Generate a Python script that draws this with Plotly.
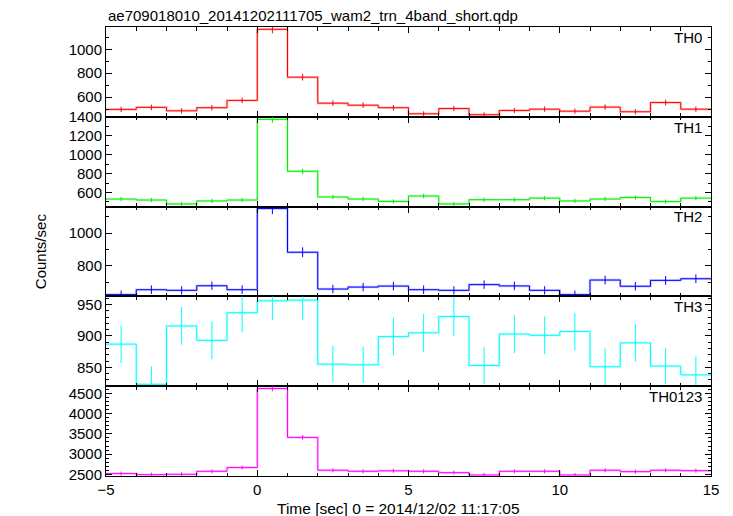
import plotly.graph_objects as go
from plotly.subplots import make_subplots

# ---- data ----
bin_centers = [-4.5, -3.5, -2.5, -1.5, -0.5, 0.5, 1.5, 2.5, 3.5, 4.5,
               5.5, 6.5, 7.5, 8.5, 9.5, 10.5, 11.5, 12.5, 13.5, 14.5]
bin_width = 1.0

th0 = [498, 515, 486, 512, 573, 1167, 767, 550, 533, 512,
       461, 505, 453, 489, 500, 483, 517, 478, 555, 500]
th0_err = [22, 23, 22, 23, 24, 34, 28, 23, 23, 23,
           21, 22, 21, 22, 22, 22, 23, 22, 24, 22]

th1 = [530, 520, 478, 510, 520, 1375, 825, 552, 530, 505,
       562, 478, 523, 523, 540, 510, 530, 547, 503, 540]
th1_err = [23, 23, 22, 23, 23, 37, 29, 23, 23, 22,
           24, 22, 23, 23, 23, 23, 23, 23, 22, 23]

th2 = [624, 654, 650, 678, 654, 1150, 883, 658, 670, 676,
       654, 650, 685, 677, 650, 624, 713, 675, 711, 721]
th2_err = [25, 26, 25, 26, 26, 34, 30, 26, 26, 26,
           26, 25, 26, 26, 25, 25, 27, 26, 27, 27]

th3 = [887, 823, 916, 893, 937, 956, 957, 855, 854, 899,
       905, 931, 853, 903, 901, 907, 851, 889, 852, 838]
th3_err = [30, 29, 30, 30, 31, 31, 31, 29, 29, 30,
           30, 31, 29, 30, 30, 30, 29, 30, 29, 29]

th0123 = [2517, 2492, 2500, 2574, 2666, 4625, 3413, 2600, 2574, 2586,
          2574, 2541, 2483, 2574, 2574, 2483, 2600, 2566, 2600, 2590]
th0123_err = [50, 50, 50, 51, 52, 68, 58, 51, 51, 51,
              51, 50, 50, 51, 51, 50, 51, 51, 51, 51]

series_names = ["TH0", "TH1", "TH2", "TH3", "TH0123"]
series_values = [th0, th1, th2, th3, th0123]
series_errors = [th0_err, th1_err, th2_err, th3_err, th0123_err]
series_colors = ["#ff0000", "#00ee00", "#0000ff", "#00ffff", "#ff00ff"]
halo_colors = ["rgba(255,0,0,0.22)", "rgba(0,238,0,0.22)", "rgba(0,0,255,0.22)",
               "rgba(0,255,255,0.22)", "rgba(255,0,255,0.22)"]
y_ranges = [[436, 1186], [450, 1402], [613, 1162], [820, 963], [2458, 4681]]
y_dticks = [200, 200, 200, 50, 500]
y_minor = [100, 100, 100, 10, 100]

title_text = "ae709018010_20141202111705_wam2_trn_4band_short.qdp"
x_title = "Time [sec] 0 = 2014/12/02 11:17:05"
y_title = "Counts/sec"

FONT = "Liberation Sans, Arial, Helvetica, sans-serif"

fig = make_subplots(rows=5, cols=1, shared_xaxes=True, vertical_spacing=0)

x_edges = [c - bin_width / 2 for c in bin_centers] + [bin_centers[-1] + bin_width / 2]

for i, (name, vals, errs) in enumerate(zip(series_names, series_values, series_errors)):
    row = i + 1
    y_step = list(vals) + [vals[-1]]
    fig.add_trace(go.Scatter(x=x_edges, y=y_step, mode="lines", line_shape="hv",
                             line=dict(color=halo_colors[i], width=2.5),
                             hoverinfo="skip", showlegend=False), row=row, col=1)
    fig.add_trace(go.Scatter(x=x_edges, y=y_step, mode="lines", line_shape="hv",
                             line=dict(color=series_colors[i], width=1),
                             name=name, showlegend=False), row=row, col=1)
    fig.add_trace(go.Scatter(x=bin_centers, y=vals, mode="markers",
                             marker=dict(size=0.1, color=series_colors[i], opacity=0),
                             error_y=dict(type="data", array=errs, visible=True,
                                          color=series_colors[i], thickness=1, width=0),
                             showlegend=False, name=name), row=row, col=1)
    fig.add_annotation(text=name, xref="x domain" if row == 1 else f"x{row} domain",
                       yref="y domain" if row == 1 else f"y{row} domain",
                       x=0.988, y=0.885, xanchor="right", yanchor="middle",
                       showarrow=False, font=dict(family=FONT, size=15, color="black"))
    fig.update_yaxes(range=y_ranges[i], dtick=y_dticks[i], tick0=0, automargin=False,
                     ticks="inside", ticklen=6, tickcolor="black", tickwidth=1,
                     minor=dict(dtick=y_minor[i], ticks="inside", ticklen=3,
                                tickcolor="black", tickwidth=1),
                     showline=True, linecolor="black", linewidth=1, mirror="allticks",
                     showgrid=False, zeroline=False,
                     tickfont=dict(family=FONT, size=15, color="black"),
                     row=row, col=1)
    fig.update_xaxes(range=[-5, 15], dtick=5, tick0=0, automargin=False,
                     ticks="inside", ticklen=6, tickcolor="black", tickwidth=1,
                     minor=dict(dtick=1, ticks="inside", ticklen=3.5,
                                tickcolor="black", tickwidth=1),
                     showline=True, linecolor="black", linewidth=1, mirror="allticks",
                     showgrid=False, zeroline=False,
                     tickfont=dict(family=FONT, size=15, color="black"),
                     row=row, col=1)

fig.add_annotation(text=x_title, xref="paper", yref="paper", x=0.483, y=0.0,
                   xanchor="center", yanchor="middle", yshift=-32, showarrow=False,
                   font=dict(family=FONT, size=15.5, color="black"))
fig.add_annotation(text=y_title, xref="paper", yref="paper", x=-0.108, y=0.5,
                   textangle=-90, showarrow=False, xanchor="center", yanchor="middle",
                   font=dict(family=FONT, size=15, color="black"))
fig.add_annotation(text=title_text, xref="paper", yref="paper", x=0.0, y=1.0,
                   xanchor="left", yanchor="bottom", yshift=1, showarrow=False,
                   font=dict(family=FONT, size=15, color="black"))

fig.update_layout(width=733, height=516,
                  margin=dict(l=106, r=22, t=27, b=40, autoexpand=False),
                  paper_bgcolor="white", plot_bgcolor="white",
                  font=dict(family=FONT, size=15, color="black"),
                  showlegend=False)

fig.write_html("out.html", config={"displayModeBar": False},
               post_script="document.body.style.margin='0';document.body.style.overflow='hidden';")
